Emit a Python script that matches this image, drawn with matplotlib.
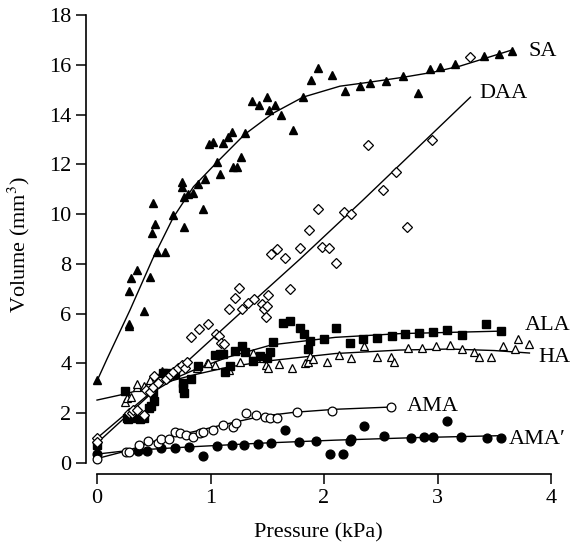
import numpy as np
import matplotlib
matplotlib.use("Agg")
import matplotlib.pyplot as plt
from matplotlib import font_manager

# pick a Times-like face that is actually installed
installed = {f.name for f in font_manager.fontManager.ttflist}
serif = next(n for n in ['Liberation Serif', 'Times New Roman', 'Nimbus Roman',
                         'TeX Gyre Termes', 'STIXGeneral', 'DejaVu Serif'] if n in installed)
plt.rcParams['font.family'] = [serif, 'DejaVu Serif']
plt.rcParams['mathtext.fontset'] = 'stix'

# --- data (pressure kPa, volume mm^3) ---
sa_x = [0, 0.28, 0.28, 0.41, 0.28, 0.30, 0.35, 0.47, 0.53, 0.60, 0.485, 0.51, 0.49, 0.67, 0.77,
        0.93, 0.75, 0.75, 0.77, 0.80, 0.845, 0.89, 0.95, 1.085, 1.06, 1.20, 1.23, 1.27, 0.99, 1.02,
        1.11, 1.155, 1.19, 1.30, 1.73, 1.365, 1.43, 1.50, 1.515, 1.57, 1.62, 1.815, 1.885, 1.95,
        2.07, 2.185, 2.32, 2.405, 2.545, 2.70, 2.83, 2.935, 3.02, 3.155, 3.41, 3.54, 3.66]
sa_y = [3.33, 5.5, 5.6, 6.1, 6.9, 7.43, 7.75, 7.47, 8.47, 8.47, 9.24, 9.6, 10.44, 9.96, 9.5,
        10.2, 11.1, 11.3, 10.7, 10.8, 10.85, 11.2, 11.4, 11.6, 12.1, 11.9, 11.9, 12.3, 12.8, 12.9,
        12.85, 13.1, 13.3, 13.25, 13.4, 14.54, 14.4, 14.7, 14.2, 14.4, 14.0, 14.7, 15.38, 15.86,
        15.6, 14.94, 15.14, 15.26, 15.34, 15.54, 14.86, 15.82, 15.9, 16.02, 16.35, 16.45, 16.55]

daa_x = [0, 0, 0.28, 0.31, 0.32, 0.35, 0.41, 0.43, 0.47, 0.49, 0.50, 0.54, 0.61, 0.64, 0.67,
         0.71, 0.75, 0.775, 0.79, 0.83, 0.90, 0.98, 1.05, 1.075, 1.09, 1.12, 1.16, 1.215, 1.25,
         1.28, 1.33, 1.38, 1.45, 1.47, 1.49, 1.50, 1.505, 1.53, 1.585, 1.66, 1.70, 1.79, 1.87,
         1.95, 1.98, 2.04, 2.11, 2.18, 2.24, 2.39, 2.52, 2.63, 2.73, 2.95, 3.29]
daa_y = [1.0, 0.85, 2.0, 2.0, 2.13, 2.13, 1.93, 2.93, 2.85, 3.05, 3.49, 3.2, 3.37, 3.53, 3.66,
         3.8, 3.94, 3.8, 4.06, 5.06, 5.38, 5.58, 5.18, 5.1, 4.82, 4.78, 6.18, 6.63, 7.03,
         6.18, 6.43, 6.59, 6.39, 6.18, 5.86, 6.3, 6.75, 8.39, 8.59, 8.23, 6.99, 8.63, 9.36,
         10.2, 8.67, 8.63, 8.03, 10.08, 10.0, 12.77, 10.96, 11.7, 9.48, 12.97, 16.3]

ala_x = [0, 0.25, 0.26, 0.27, 0.32, 0.38, 0.41, 0.46, 0.475, 0.50, 0.49, 0.58, 0.62, 0.69, 0.76,
         0.76, 0.77, 0.83, 0.89, 1.04, 1.08, 1.11, 1.13, 1.17, 1.22, 1.28, 1.30, 1.37, 1.44, 1.50,
         1.52, 1.55, 1.64, 1.70, 1.79, 1.82, 1.86, 1.88, 2.0, 2.11, 2.23, 2.34, 2.47, 2.60, 2.71,
         2.84, 2.96, 3.08, 3.22, 3.43, 3.56]
ala_y = [0.72, 2.9, 1.8, 1.75, 1.8, 1.77, 1.8, 2.2, 2.3, 2.5, 2.85, 3.6, 3.6, 3.57, 3.2,
         3.0, 2.8, 3.37, 3.9, 4.34, 4.4, 4.4, 3.66, 3.9, 4.5, 4.7, 4.46, 4.1, 4.3, 4.22,
         4.46, 4.86, 5.62, 5.7, 5.42, 5.18, 4.58, 4.9, 4.98, 5.42, 4.82, 4.98, 5.02, 5.1, 5.18,
         5.22, 5.26, 5.34, 5.14, 5.58, 5.3]

ha_x = [0.25, 0.26, 0.30, 0.35, 0.35, 0.41, 0.45, 0.47, 0.57, 0.88, 0.97, 0.98, 1.04, 1.16, 1.26,
        1.37, 1.46, 1.49, 1.51, 1.60, 1.72, 1.83, 1.86, 1.88, 1.90, 2.03, 2.13, 2.24, 2.35, 2.47,
        2.59, 2.62, 2.74, 2.86, 2.99, 3.11, 3.22, 3.32, 3.37, 3.47, 3.58, 3.68, 3.71, 3.81]
ha_y = [2.45, 2.61, 2.65, 3.05, 3.17, 3.09, 3.13, 3.33, 3.69, 3.82, 4.02, 4.02, 3.94, 3.73, 4.06,
        4.42, 4.22, 3.94, 3.82, 3.98, 3.82, 4.0, 4.06, 4.3, 4.18, 4.06, 4.34, 4.22, 4.7, 4.26,
        4.26, 4.06, 4.62, 4.62, 4.7, 4.74, 4.58, 4.46, 4.26, 4.26, 4.7, 4.58, 4.98, 4.78]

ama_x = [0, 0.255, 0.28, 0.37, 0.45, 0.54, 0.56, 0.63, 0.69, 0.73, 0.78, 0.845, 0.91, 0.935, 1.02,
         1.11, 1.20, 1.225, 1.31, 1.40, 1.48, 1.52, 1.585, 1.76, 2.07, 2.59]
ama_y = [0.16, 0.44, 0.44, 0.72, 0.88, 0.8, 0.96, 0.96, 1.25, 1.2, 1.12, 1.04, 1.2, 1.25, 1.33,
         1.53, 1.45, 1.61, 2.0, 1.93, 1.85, 1.8, 1.8, 2.05, 2.09, 2.25]

amap_x = [0, 0.36, 0.44, 0.56, 0.69, 0.81, 0.935, 1.06, 1.19, 1.295, 1.42, 1.53, 1.66, 1.78,
          1.93, 2.05, 2.17, 2.23, 2.24, 2.35, 2.53, 2.77, 2.88, 2.96, 3.08, 3.21, 3.44, 3.56]
amap_y = [0.36, 0.48, 0.48, 0.6, 0.6, 0.64, 0.28, 0.68, 0.72, 0.72, 0.76, 0.8, 1.33, 0.84,
          0.88, 0.36, 0.36, 0.88, 0.95, 1.49, 1.08, 1.0, 1.04, 1.04, 1.69, 1.04, 1.0, 1.0]

# fitted curves as drawn in the figure
sa_fx = [0, 0.09, 0.29, 0.49, 0.67, 0.85, 1.06, 1.3, 1.55, 1.815, 2.14, 2.4, 2.7, 2.96, 3.2, 3.42, 3.66]
sa_fy = [3.3, 4.2, 6.14, 8.2, 9.85, 11.1, 12.1, 13.2, 14.05, 14.7, 15.14, 15.3, 15.5, 15.7, 15.95, 16.26, 16.6]
daa_fx = [0, 0.775, 1.28, 1.79, 2.34, 3.29]
daa_fy = [1.0, 4.0, 6.1, 8.2, 10.55, 14.7]
ala_fx = [0, 0.27, 0.49, 0.71, 0.86, 1.15, 1.54, 2.1, 2.67, 3.56]
ala_fy = [0.8, 1.93, 2.85, 3.45, 3.75, 4.25, 4.75, 5.05, 5.2, 5.3]
ha_fx = [0, 0.27, 0.57, 0.86, 1.15, 1.5, 2.1, 2.67, 3.11, 3.5, 3.81]
ha_fy = [2.53, 2.8, 3.2, 3.55, 3.85, 4.1, 4.4, 4.54, 4.58, 4.52, 4.42]
ama_fx = [0, 0.27, 0.57, 0.86, 1.15, 1.45, 1.74, 2.1, 2.59]
ama_fy = [0.18, 0.5, 0.98, 1.27, 1.58, 1.88, 2.04, 2.16, 2.25]
amap_fx = [0, 0.27, 0.86, 1.45, 2.1, 2.8, 3.56]
amap_fy = [0.36, 0.5, 0.66, 0.8, 0.92, 1.02, 1.1]

labels = ['SA', 'DAA', 'ALA', 'HA', 'AMA', 'AMA\u2032']
label_pos = [(3.80, 16.55), (3.37, 14.86), (3.77, 5.54), (3.89, 4.26), (2.73, 2.29), (3.63, 0.96)]

fig = plt.figure(figsize=(5.71, 5.48), dpi=100)
ax = fig.add_axes([86 / 571, 74 / 548, 465 / 571, 459 / 548])

for fx, fy in [(sa_fx, sa_fy), (daa_fx, daa_fy), (ala_fx, ala_fy),
               (ha_fx, ha_fy), (ama_fx, ama_fy), (amap_fx, amap_fy)]:
    ax.plot(fx, fy, color='black', lw=1.0, zorder=2)

ms = 6.3
ax.plot(ha_x, ha_y, '^', ms=ms, mfc='white', mec='black', mew=0.9, ls='none', zorder=3, clip_on=False)
ax.plot(ala_x, ala_y, 's', ms=ms - 0.5, mfc='black', mec='black', ls='none', zorder=3, clip_on=False)
ax.plot(daa_x, daa_y, 'D', ms=ms - 0.8, mfc='white', mec='black', mew=0.9, ls='none', zorder=4, clip_on=False)
ax.plot(sa_x, sa_y, '^', ms=ms, mfc='black', mec='black', ls='none', zorder=3, clip_on=False)
ax.plot(amap_x, amap_y, 'o', ms=ms, mfc='black', mec='black', ls='none', zorder=3, clip_on=False)
ax.plot(ama_x, ama_y, 'o', ms=ms, mfc='white', mec='black', mew=0.9, ls='none', zorder=4, clip_on=False)

for lab, (lx, ly) in zip(labels, label_pos):
    ax.text(lx, ly, lab, fontsize=16, ha='left', va='center', clip_on=False)

ax.set_xlim(-0.097, 4.0)
ax.set_ylim(-0.44, 18)
ax.spines['top'].set_visible(False)
ax.spines['right'].set_visible(False)
ax.spines['bottom'].set_bounds(0, 4)
ax.spines['left'].set_bounds(0, 18)
for s in ['bottom', 'left']:
    ax.spines[s].set_linewidth(1.2)
ax.set_xticks([0, 1, 2, 3, 4])
ax.set_yticks(range(0, 19, 2))
ax.tick_params(direction='out', length=7, width=1.1, labelsize=16)
ax.set_xlabel('Pressure (kPa)', fontsize=16, labelpad=11)
ax.set_ylabel('Volume (mm$^3$)', fontsize=16, labelpad=12)

fig.savefig('out.png', dpi=100)
